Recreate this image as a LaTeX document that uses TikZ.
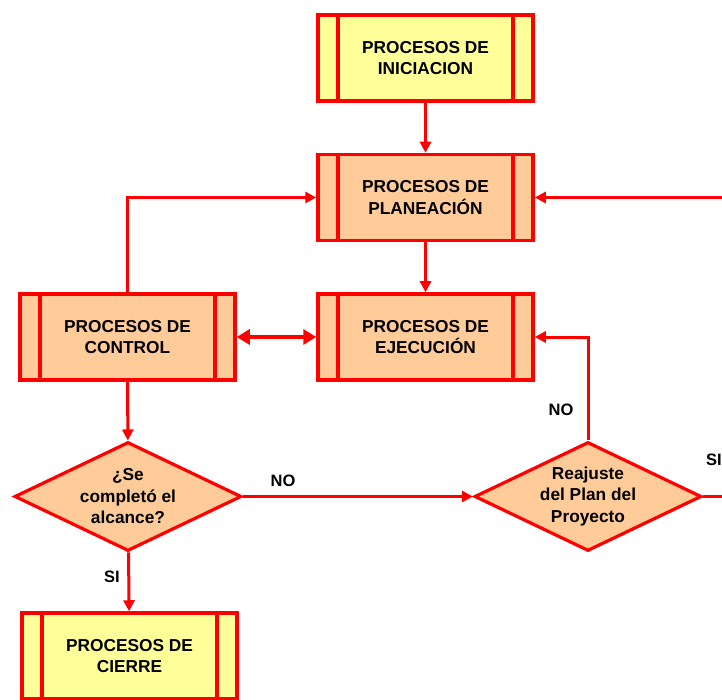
\documentclass[tikz,border=0pt]{standalone}
\usepackage{fontspec}
\setmainfont{Liberation Sans}
\usetikzlibrary{arrows.meta,shapes.geometric}
\definecolor{rd}{HTML}{FF0000}
\definecolor{yel}{HTML}{FFFF99}
\definecolor{org}{HTML}{FFCC99}
\begin{document}
\begin{tikzpicture}[x=1pt,y=-1pt,
  every node/.style={font=\fontsize{17.3}{21.5}\selectfont\bfseries, text=black},
  procbox/.style={draw=rd, line width=3.5pt, rectangle, minimum width=215pt, minimum height=86pt,
    align=center, inner sep=0pt,
    path picture={
      \draw[rd, line width=3.5pt] ([xshift=20pt]path picture bounding box.north west) -- ([xshift=20pt]path picture bounding box.south west);
      \draw[rd, line width=3.5pt] ([xshift=-20pt]path picture bounding box.north east) -- ([xshift=-20pt]path picture bounding box.south east);
    }},
  decision/.style={draw=rd, fill=org, line width=3.2pt, diamond, aspect=2.07, minimum width=227pt, minimum height=109pt, inner sep=0pt, align=center},
  conn/.style={draw=rd, line width=3pt, -{Triangle[length=11pt,width=11pt]}},
  plain/.style={draw=rd, line width=3pt},
  dbl/.style={draw=rd, line width=4.5pt, {Triangle[length=13pt,width=15pt]}-{Triangle[length=13pt,width=15pt]}},
  lbl/.style={font=\fontsize{16.5}{19}\selectfont\bfseries}
]
\path[use as bounding box, clip] (0,0) rectangle (722,700);
\node[procbox, fill=yel] (ini) at (425.5,58) {PROCESOS DE\\INICIACION};
\node[procbox, fill=org] (plan) at (425.5,197.5) {PROCESOS DE\\PLANEACIÓN};
\node[procbox, fill=org] (ejec) at (425.5,337) {PROCESOS DE\\EJECUCIÓN};
\node[procbox, fill=org] (ctrl) at (127.5,337) {PROCESOS DE\\CONTROL};
\node[procbox, fill=yel] (cierre) at (129.5,656) {PROCESOS DE\\CIERRE};
\node[decision] (d1) at (128,496.5) {¿Se\\completó el\\alcance?};
\node[decision] (d2) at (588,496.5) {Reajuste\\del Plan del\\Proyecto};
\coordinate (rt) at (745,197.5);
\coordinate (rb) at (745,496.5);
\draw[conn] (ini) -- (plan);
\draw[conn] (plan) -- (ejec);
\draw[conn] (ctrl.north) |- (plan.west);
\draw[conn] (rt) -- (plan.east);
\draw[plain] (d2.east) -- (rb) -- (rt);
\draw[dbl] (ctrl) -- (ejec);
\draw[conn] (ctrl) -- (d1);
\draw[conn] (d1) -- (d2);
\draw[conn] (d2.north) |- (ejec.east);
\draw[conn] (d1) -- (cierre);
\node[lbl] (no1) at (283,481) {NO};
\node[lbl] (no2) at (561,410) {NO};
\node[lbl] (si1) at (112,577) {SI};
\node[lbl, anchor=west, inner sep=0pt] (si2) at (706,460) {SI};
\end{tikzpicture}
\end{document}
